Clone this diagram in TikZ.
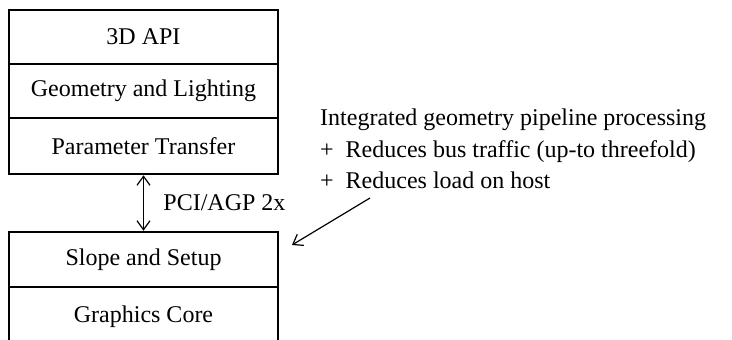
\documentclass[tikz,border=0pt]{standalone}
\usepackage{fontspec}
\setmainfont{Liberation Serif}
\usepackage{tikz}
\usetikzlibrary{arrows.meta}
\tikzset{
layer/.style = {rectangle, draw=black, line width=2.5pt, minimum width = #1, inner sep=0pt},
layer/.default = 269pt, % width of the stack
}

\begin{document}
\begin{tikzpicture}[x=1pt, y=-1pt, font=\fontsize{24}{31}\selectfont]
    \clip (0,0) rectangle (732,340);

    \node[layer, minimum height=54pt] (api) at (143.5,37) {3D API};
    \node[layer, minimum height=54pt] (geo) at (143.5,91) {Geometry and Lighting};
    \node[layer, minimum height=56pt] (param) at (143.5,146) {Parameter Transfer};

    \node[layer, minimum height=55pt] (slope) at (143.5,259.5) {Slope and Setup};
    \node[layer, minimum height=80pt] (core) at (143.5,327) {};
    \node (coretext) at (143.5,317) {Graphics Core};

    \draw[{Straight Barb[length=9pt,width=13pt]}-{Straight Barb[length=9pt,width=13pt]}, line width=1.2pt] (param) -- (slope) node[midway, anchor=west, xshift=16pt] (bus) {PCI/AGP 2x};

    \node[anchor=base west, inner sep=0pt] (note1) at (320,125) {Integrated geometry pipeline processing};
    \node[anchor=base west, inner sep=0pt] (note2) at (320,157) {+\ \ Reduces bus traffic (up-to threefold)};
    \node[anchor=base west, inner sep=0pt] (note3) at (320,188) {+\ \ Reduces load on host};

    \coordinate (tail) at (370,198);
    \coordinate (tip) at (292,245);
    \draw[-{Straight Barb[length=9pt,width=13pt]}, line width=1.2pt] (tail) -- (tip);
\end{tikzpicture}
\end{document}
